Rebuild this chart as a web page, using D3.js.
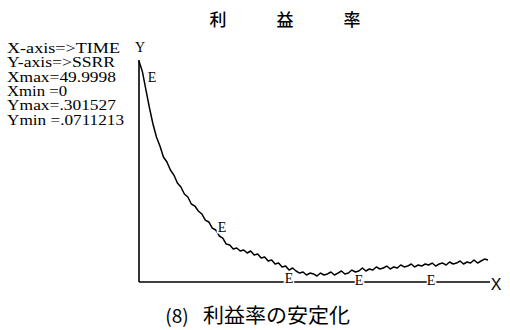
<!DOCTYPE html>
<html>
<head>
<meta charset="utf-8">
<script src="https://cdn.jsdelivr.net/npm/d3@7"></script>
<style>
    body { margin: 0; background: #fff; }
    svg { display: block; }
</style>
</head>
<body>
<div id="vis"></div>
<script>
// time series, one sample every 0.5 time units
var timeStep = 0.5;
var ssrr = [
    0.3015, 0.2897, 0.2704, 0.2512, 0.2340, 0.2201, 0.2104, 0.1986, 0.1933, 0.1847,
    0.1793, 0.1708, 0.1665, 0.1590, 0.1558, 0.1483, 0.1461, 0.1408, 0.1376, 0.1311,
    0.1290, 0.1225, 0.1204, 0.1140, 0.1118, 0.1054, 0.1043, 0.1000, 0.1011, 0.0979,
    0.0990, 0.0958, 0.0979, 0.0936, 0.0947, 0.0904, 0.0915, 0.0872, 0.0883, 0.0840,
    0.0850, 0.0808, 0.0818, 0.0775, 0.0797, 0.0765, 0.0743, 0.0754, 0.0722, 0.0743,
    0.0733, 0.0711, 0.0743, 0.0722, 0.0733, 0.0754, 0.0722, 0.0743, 0.0765, 0.0733,
    0.0743, 0.0775, 0.0754, 0.0765, 0.0797, 0.0765, 0.0786, 0.0775, 0.0808, 0.0786,
    0.0797, 0.0818, 0.0786, 0.0808, 0.0797, 0.0829, 0.0808, 0.0818, 0.0840, 0.0808,
    0.0829, 0.0818, 0.0840, 0.0829, 0.0850, 0.0818, 0.0840, 0.0850, 0.0829, 0.0861,
    0.0840, 0.0850, 0.0872, 0.0840, 0.0861, 0.0850, 0.0883, 0.0850, 0.0872, 0.0893,
    0.0883
];

// "E" plot markers
var markerTimes = [1.86, 11.89, 21.49, 31.52, 41.83];
var markerValues = [0.2844, 0.1236, 0.0690, 0.0668, 0.0668];

var xMin = 0, xMax = 49.9998;
var yMin = 0.0711213, yMax = 0.301527;

var infoLines = ['X-axis=>TIME', 'Y-axis=>SSRR', 'Xmax=49.9998', 'Xmin =0', 'Ymax=.301527', 'Ymin =.0711213'];
var titleChars = ['利', '益', '率'];
var caption = ['(8)', '利益率の安定化'];

var svg = d3.select('#vis')
    .append('svg')
    .attr('width', 510)
    .attr('height', 330);

var xScale = d3.scaleLinear().domain([xMin, xMax]).range([139, 488]);
var yScale = d3.scaleLinear().domain([yMin, yMax]).range([276, 61]);

var serif = '"Liberation Serif", "DejaVu Serif", serif';
var cjk = '"Noto Sans CJK JP", sans-serif';

// title, spaced out
var titleX = d3.scalePoint().domain(titleChars).range([218, 352]);
svg.selectAll('.title')
    .data(titleChars)
    .enter().append('text')
    .attr('class', 'title')
    .attr('x', function(d) { return titleX(d); })
    .attr('y', 26)
    .attr('text-anchor', 'middle')
    .style('font-family', cjk)
    .style('font-size', '17px')
    .style('font-weight', 500)
    .text(function(d) { return d; });

// info block on the left
var infoWidths = [113, 108, 109, 60, 109, 117];
svg.selectAll('.info')
    .data(infoLines)
    .enter().append('text')
    .attr('class', 'info')
    .attr('x', 7)
    .attr('y', function(d, i) { return 53 + i * 14.3; })
    .attr('textLength', function(d, i) { return infoWidths[i]; })
    .attr('lengthAdjust', 'spacingAndGlyphs')
    .style('font-family', serif)
    .style('font-size', '14px')
    .text(function(d) { return d; });

// axes
svg.append('line')
    .attr('x1', xScale(xMin)).attr('x2', xScale(xMin))
    .attr('y1', 60).attr('y2', 282)
    .attr('stroke', '#000').attr('stroke-width', 1.6);

svg.append('line')
    .attr('x1', xScale(xMin)).attr('x2', xScale(xMax) + 2)
    .attr('y1', 282).attr('y2', 282)
    .attr('stroke', '#000').attr('stroke-width', 1.6);

svg.append('text')
    .attr('x', 140).attr('y', 52)
    .attr('text-anchor', 'middle')
    .style('font-family', serif)
    .style('font-size', '14px')
    .text('Y');

svg.append('text')
    .attr('x', 496).attr('y', 290)
    .attr('text-anchor', 'middle')
    .style('font-family', '"Liberation Sans", Arial, sans-serif')
    .style('font-size', '16px')
    .text('X');

// the curve
var line = d3.line()
    .x(function(d, i) { return xScale(i * timeStep); })
    .y(function(d) { return yScale(d); });

svg.append('path')
    .datum(ssrr)
    .attr('d', line)
    .attr('fill', 'none')
    .attr('stroke', '#000')
    .attr('stroke-width', 1.5)
    .attr('stroke-linejoin', 'round');

// E markers with a white halo so they cut the axis line
svg.selectAll('.marker')
    .data(markerTimes)
    .enter().append('text')
    .attr('class', 'marker')
    .attr('x', function(d) { return xScale(d); })
    .attr('y', function(d, i) { return yScale(markerValues[i]) + 5; })
    .attr('text-anchor', 'middle')
    .attr('stroke', '#fff')
    .attr('stroke-width', 3)
    .attr('paint-order', 'stroke')
    .style('font-family', serif)
    .style('font-size', '14px')
    .text('E');

// caption
svg.append('text')
    .attr('x', 177).attr('y', 323)
    .attr('text-anchor', 'middle')
    .style('font-family', cjk)
    .style('font-size', '19px')
    .text(caption[0]);

svg.append('text')
    .attr('x', 203).attr('y', 323)
    .attr('textLength', 147)
    .attr('lengthAdjust', 'spacingAndGlyphs')
    .style('font-family', cjk)
    .style('font-size', '20px')
    .text(caption[1]);
</script>
</body>
</html>
